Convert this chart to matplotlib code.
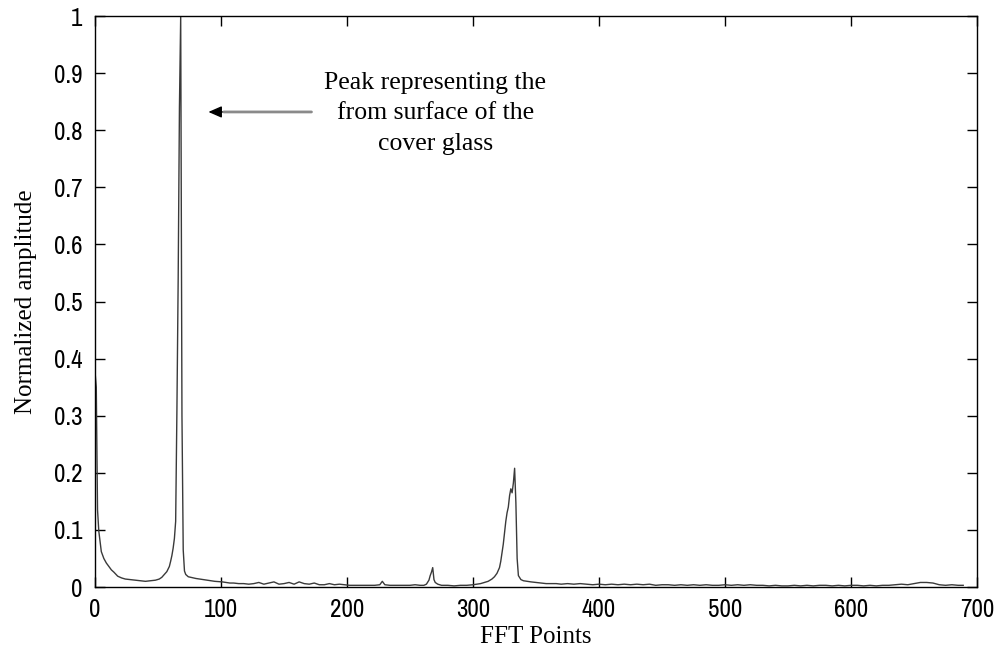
import matplotlib
matplotlib.use("Agg")
import matplotlib.pyplot as plt
from matplotlib import font_manager as fm

# FFT magnitude (normalized) sampled at FFT point indices
x_dc = [0, 1, 2, 3, 4, 5, 7, 9, 11, 13, 15, 18, 21, 24, 28, 32, 36, 40, 44, 48,
        51, 53, 55, 57, 59, 60, 61, 62, 63, 64, 65, 66, 67, 68, 69, 70, 71, 72,
        74, 76, 78, 80]
y_dc = [0.377, 0.350, 0.135, 0.098, 0.080, 0.062, 0.050, 0.042, 0.036, 0.030,
        0.026, 0.019, 0.016, 0.014, 0.013, 0.012, 0.011, 0.010, 0.011, 0.012,
        0.014, 0.017, 0.022, 0.027, 0.036, 0.045, 0.055, 0.068, 0.085, 0.115,
        0.310, 0.540, 0.840, 1.000, 0.300, 0.065, 0.028, 0.022, 0.018, 0.017,
        0.016, 0.015]

x_mid = [83, 86, 89, 92, 95, 98, 101, 104, 107, 110, 114, 118, 122, 126, 130,
         134, 138, 142, 146, 150, 154, 158, 162, 166, 170, 174, 178, 182, 186,
         190, 194, 198, 202, 206, 210, 214, 218, 222, 226, 228, 230, 234, 238,
         242, 246, 250, 254, 258, 261]
y_mid = [0.014, 0.013, 0.012, 0.011, 0.010, 0.0095, 0.009, 0.008, 0.007, 0.007,
         0.006, 0.006, 0.005, 0.006, 0.008, 0.005, 0.007, 0.009, 0.005, 0.006,
         0.008, 0.005, 0.009, 0.006, 0.005, 0.007, 0.004, 0.004, 0.006, 0.004,
         0.005, 0.004, 0.003, 0.003, 0.003, 0.003, 0.003, 0.003, 0.004, 0.010,
         0.004, 0.003, 0.003, 0.003, 0.003, 0.003, 0.004, 0.003, 0.003]

x_small = [263, 265, 266, 267, 268, 269, 270, 272, 275, 280, 285, 290, 295, 300]
y_small = [0.005, 0.012, 0.020, 0.026, 0.034, 0.013, 0.008, 0.005, 0.003,
           0.003, 0.002, 0.003, 0.003, 0.004]

x_peak2 = [303, 306, 309, 312, 315, 317, 319, 321, 322, 323, 324, 325, 326, 327,
           328, 329, 330, 331, 332, 333, 334, 335, 336, 338, 340, 343, 346, 350,
           354, 358]
y_peak2 = [0.005, 0.006, 0.008, 0.010, 0.014, 0.018, 0.024, 0.034, 0.045, 0.060,
           0.075, 0.095, 0.115, 0.130, 0.140, 0.160, 0.172, 0.165, 0.182, 0.208,
           0.148, 0.050, 0.020, 0.013, 0.011, 0.010, 0.009, 0.008, 0.007, 0.006]

x_tail = [362, 366, 370, 375, 380, 385, 390, 395, 400, 405, 410, 415, 420, 425,
          430, 435, 440, 445, 450, 455, 460, 465, 470, 475, 480, 485, 490, 495,
          500, 505, 510, 515, 520, 525, 530, 535, 540, 545, 550, 555, 560, 565,
          570, 575, 580, 585, 590, 595, 600, 605, 610, 615, 620, 625, 630, 635,
          640, 645, 650, 655, 660, 665, 670, 675, 680, 685, 689]
y_tail = [0.006, 0.006, 0.005, 0.006, 0.005, 0.006, 0.005, 0.004, 0.005, 0.004,
          0.005, 0.004, 0.005, 0.004, 0.005, 0.004, 0.005, 0.003, 0.004, 0.004,
          0.003, 0.004, 0.003, 0.004, 0.003, 0.004, 0.003, 0.003, 0.004, 0.003,
          0.004, 0.003, 0.004, 0.003, 0.003, 0.002, 0.003, 0.002, 0.002, 0.003,
          0.002, 0.003, 0.002, 0.003, 0.003, 0.002, 0.003, 0.002, 0.003, 0.003,
          0.002, 0.003, 0.002, 0.003, 0.003, 0.004, 0.005, 0.004, 0.006, 0.008,
          0.008, 0.007, 0.004, 0.003, 0.004, 0.003, 0.003]

x_ticks = [0, 100, 200, 300, 400, 500, 600, 700]
y_ticks = [0, 0.1, 0.2, 0.3, 0.4, 0.5, 0.6, 0.7, 0.8, 0.9, 1]
y_tick_labels = ["0", "0.1", "0.2", "0.3", "0.4", "0.5", "0.6", "0.7", "0.8", "0.9", "1"]

fft_points = x_dc + x_mid + x_small + x_peak2 + x_tail
amplitude = y_dc + y_mid + y_small + y_peak2 + y_tail

# pick a narrow sans face for the tick numbers when one is installed
tick_font, tick_stretch = "DejaVu Sans", "normal"
for f in fm.fontManager.ttflist:
    if "Narrow" in f.name or "Condensed" in f.name:
        tick_font, tick_stretch = f.name, "normal"
        break
else:
    for f in fm.fontManager.ttflist:
        if f.name == "DejaVu Sans" and f.stretch in ("condensed", "semi-condensed") \
                and f.style == "normal" and f.weight in (400, "normal"):
            tick_font, tick_stretch = "DejaVu Sans", "condensed"
            break
serif_font = "Liberation Serif"

fig = plt.figure(figsize=(9.97, 6.54), dpi=100)
ax = fig.add_axes([0.0953, 0.1024, 0.8847, 0.8731])

ax.plot(fft_points, amplitude, color="#3a3a3a", lw=1.0)

ax.set_xlim(0, 700)
ax.set_ylim(0, 1)
ax.set_xticks(x_ticks)
ax.set_yticks(y_ticks)
ax.set_yticklabels(y_tick_labels)
ax.tick_params(direction="in", length=7, width=1, top=True, right=True,
               labelsize=18, colors="black")
ax.tick_params(axis="x", pad=8)
ax.tick_params(axis="y", pad=9)
for lbl in ax.get_xticklabels() + ax.get_yticklabels():
    lbl.set_family(tick_font)
    lbl.set_stretch(tick_stretch)
for sp in ax.spines.values():
    sp.set_linewidth(1.0)
    sp.set_color("black")

ax.set_xlabel("FFT Points", fontsize=18, family=serif_font)
ax.set_ylabel("Normalized amplitude", fontsize=18, family=serif_font)
ax.yaxis.set_label_coords(-0.066, 0.5)
ax.xaxis.set_label_coords(0.5, -0.068)

# annotation for the main reflection peak
ax.text(270, 0.83, "Peak representing the\nfrom surface of the\ncover glass",
        ha="center", va="center", fontsize=18.5, family=serif_font, linespacing=1.5)
ax.annotate("", xy=(100, 0.832), xytext=(174, 0.832),
            arrowprops=dict(arrowstyle="-", color="#8a8a8a", lw=2.0))
ax.annotate("", xy=(90, 0.832), xytext=(101, 0.832),
            arrowprops=dict(arrowstyle="-|>,head_length=0.8,head_width=0.35",
                            color="black", lw=1.0, shrinkA=0, shrinkB=0))

fig.savefig("out.png", dpi=100)
